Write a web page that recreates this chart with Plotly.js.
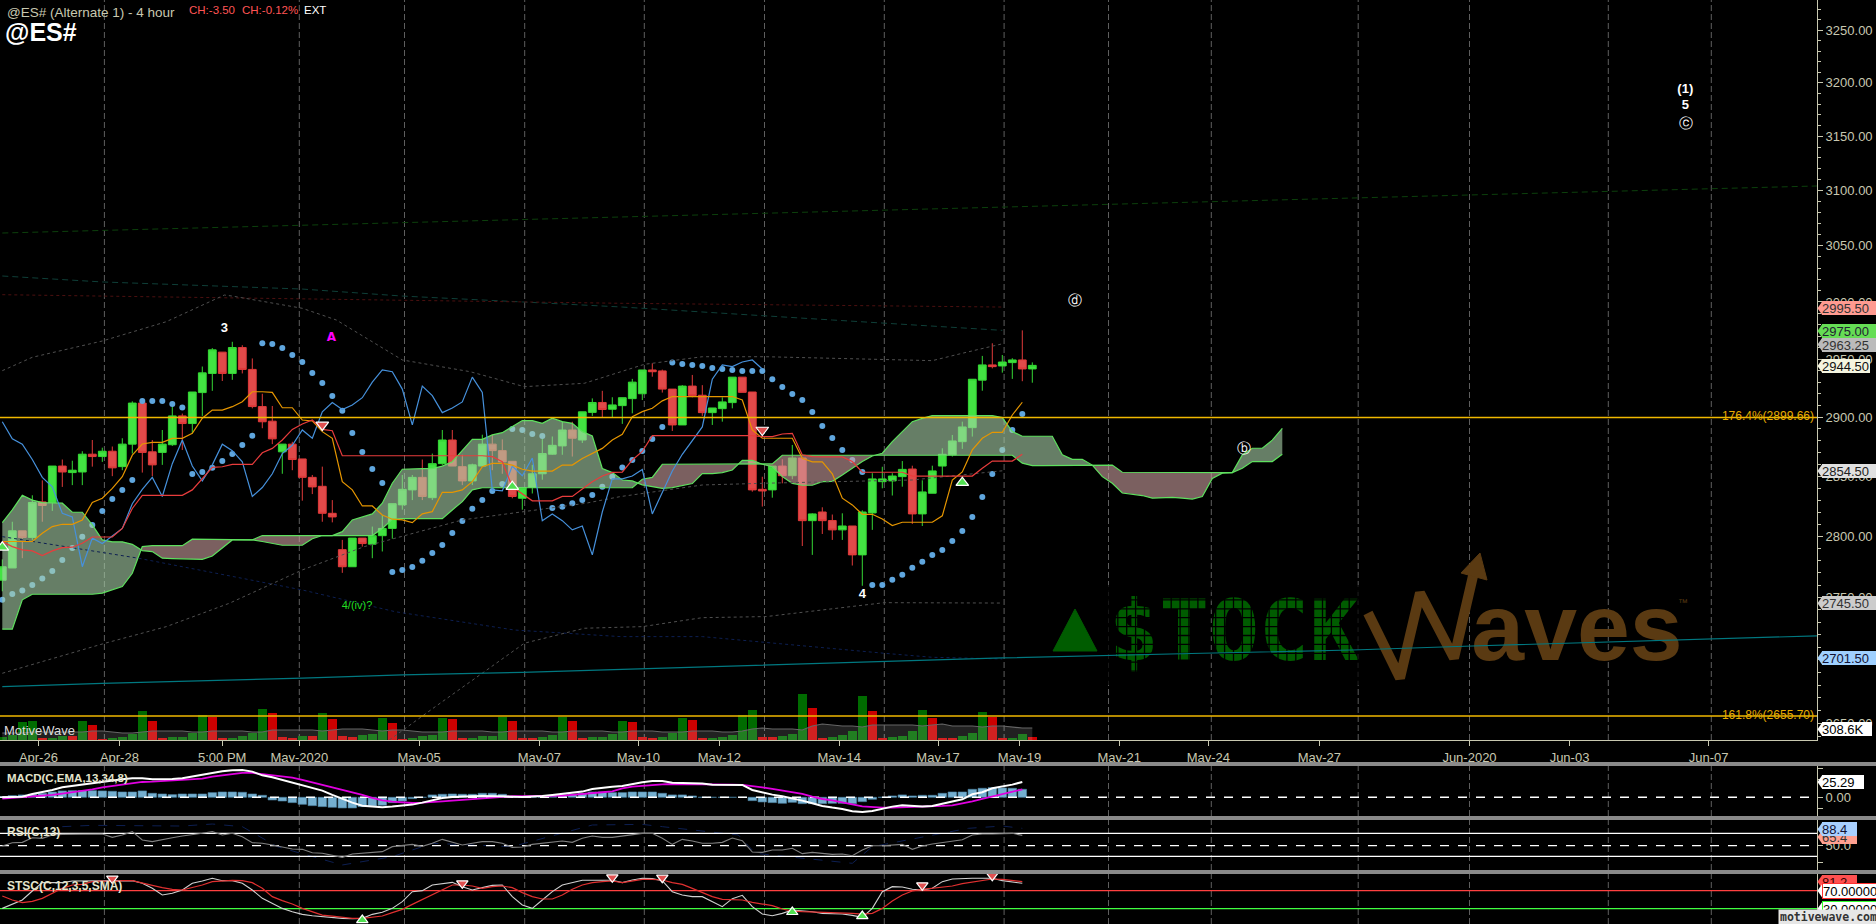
<!DOCTYPE html>
<html><head><meta charset="utf-8">
<script src="https://cdn.plot.ly/plotly-3.0.1.min.js"></script>
<style>html,body{margin:0;padding:0;background:#000;overflow:hidden}#c{width:1876px;height:924px}</style>
</head><body><div id="c"></div>
<script>
// ---------- candles (4 hour, index 0..103)
const opens=[2764,2774,2804.5,2799,2828.5,2828,2858.5,2853,2853.5,2868.5,2866.5,2871,2858,2877,2912,2870.5,2870,2876.5,2901,2894.5,2921,2937.5,2956,2937.5,2960,2941,2909,2896.5,2870.5,2877,2864.5,2849,2841.5,2819,2789,2775,2798.5,2793.5,2800.5,2806.5,2826,2838.5,2849,2832,2860.5,2880.5,2858,2846,2858.5,2877,2871.5,2862.5,2831.5,2840.5,2852,2868.5,2875.5,2889,2880.5,2904,2912.5,2906.7,2909.8,2915.8,2920,2940.5,2939.7,2924,2893.3,2926.6,2918.7,2903.8,2907.2,2912.4,2934.3,2921.5,2839,2838.5,2858.5,2850.4,2865.3,2812.9,2820.1,2813,2805.3,2808.5,2784.7,2819.3,2845.4,2846,2849.6,2856,2818.5,2835.7,2858.5,2867.9,2879.1,2891,2931.7,2944.9,2944,2946.9,2949.2,2941.4];
const highs=[2781,2812,2804.5,2834,2846.5,2858.5,2864,2863,2871,2880.5,2874,2875,2882,2913.5,2912,2880.5,2889,2911.5,2903,2921.5,2943.5,2959.5,2956,2965,2962,2950.5,2920,2909.5,2877,2879,2864.5,2851,2858,2830,2797,2798.5,2798.5,2808,2817.5,2827,2851,2851,2864,2869,2889,2889,2868,2860.5,2885,2885,2881,2862.5,2841,2859.5,2883.5,2883.5,2896,2896,2904.5,2916,2922.5,2917,2916.6,2932.8,2940.5,2946.3,2940.8,2924,2927.4,2936.2,2927.4,2907.8,2916.9,2934.3,2934.3,2921.5,2849.5,2858.5,2864.2,2876.3,2865.3,2819,2824,2818,2819,2808.5,2821.5,2852.5,2857.9,2852.5,2862.7,2858.8,2846.5,2858.8,2873.5,2884.8,2896.1,2932.5,2952.7,2963.7,2953.5,2950.7,2975,2947.1];
const lows=[2755,2774,2782,2797,2812,2821,2841,2842.5,2842.5,2858,2862,2850,2855,2869,2853,2850,2859.5,2875.5,2872,2886,2901,2922.5,2931,2932,2937.5,2907.5,2890.5,2877,2852,2855,2829.5,2835,2812,2811.5,2770,2775,2791.5,2782,2787.5,2798,2822,2830,2830,2830,2859.5,2858.5,2842.5,2842.5,2858,2855,2852,2831.5,2822,2835.5,2847,2868,2868,2866.5,2878,2901,2900,2899.8,2894.2,2903.2,2914.6,2934.7,2921,2888.2,2893.3,2916.9,2901,2893.3,2896.1,2907.5,2921.2,2837,2824.6,2832,2844,2847.4,2792,2784.7,2801.9,2797,2797,2776,2759.5,2805.3,2839.8,2833.8,2841.2,2810.2,2808.5,2835.7,2849.6,2866.5,2873,2883.4,2922.6,2941.9,2938.2,2932.8,2930.8,2929.5];
const closes=[2775,2804.5,2799,2828,2825.5,2858.5,2853.5,2855,2868.5,2866.5,2871,2857,2877,2912,2870,2859.5,2877,2901,2894.5,2921.5,2938,2958,2937.5,2960,2941,2909,2896,2881.5,2877,2864,2849,2841,2819,2816,2775,2798.5,2794,2800.5,2806.5,2827,2839,2849,2833,2860.5,2880.5,2858.5,2846,2859.5,2877,2871.5,2862,2833,2840.5,2852,2869,2876,2889,2882,2904.5,2912.5,2906.5,2910.4,2916.6,2930,2940.5,2939,2924,2893.3,2926.6,2918.4,2903.8,2907.8,2913,2934.3,2921.2,2838.5,2837.6,2858.5,2850.4,2865.3,2812.9,2818.5,2812.9,2805.3,2808.5,2784.7,2820.1,2847.7,2847.7,2850.1,2855.7,2818.5,2836.8,2854.4,2868.4,2879.7,2891.6,2932.5,2944.9,2943.4,2947.4,2949.2,2941.4,2944.5];
// ---------- volume (K)
const volume=[86,129,454,489,60,60,111,111,489,386,26,60,86,154,746,489,60,86,86,171,643,600,60,60,111,189,797,686,86,60,103,103,686,540,103,86,129,154,574,437,26,60,103,129,566,540,60,60,103,103,600,489,60,60,86,129,600,489,60,86,86,154,489,463,86,60,86,171,566,514,60,60,86,129,643,771,86,86,111,154,1183,831,60,86,129,231,1131,746,60,86,111,231,771,566,60,60,111,171,720,600,60,60,154,69];
const volumeDir="GGGGRGGRGRRGGGGRRGGGGRRGGGGRRRGRGRRRGGGRRGGGGRRGGGGRRRGGGRRGGGGRRRGGGRRGGGGGRRGGGRRGGGGRRGGGGRRRGGGRRGGR".split("");
const volumeAvg=[180,180,180,206,206,206,206,206,206,231,231,206,180,180,206,231,231,231,231,206,206,231,231,231,231,206,206,257,257,257,257,257,231,257,283,283,283,257,231,257,257,231,206,206,206,231,231,231,231,206,206,231,231,231,231,206,206,231,231,231,231,206,206,231,231,231,206,206,206,231,231,231,206,206,231,283,308,283,283,283,257,360,411,386,360,360,334,386,386,386,386,386,360,386,411,360,360,360,334,360,360,334,308,308.6];
// ---------- ichimoku
const spanA=[2811.3,2821.8,2834,2830,2827.9,2827.4,2827.4,2819.9,2819.9,2809.4,2797,2795.4,2795.4,2793.4,2788.2,2787.4,2782,2781.7,2781.7,2781.7,2781.1,2783.8,2790.2,2797,2797,2797,2795.7,2794.3,2792.6,2792.6,2792.6,2798,2800.6,2800.6,2803.8,2813.5,2816.2,2818.5,2827.4,2844.1,2855.8,2856.4,2856.4,2856.4,2858.4,2862.1,2872,2881,2881,2884.8,2886.7,2891.8,2897,2897,2894.7,2899,2896.1,2894.7,2887.6,2883.9,2856.4,2853,2846.8,2846,2842.7,2841.2,2839.8,2840.4,2842.1,2843.8,2852.1,2852.1,2853,2855.2,2863.3,2863.3,2860,2857.9,2849.6,2844,2842.4,2842.4,2845.4,2845.7,2851,2856.6,2862.3,2867,2869.3,2879.1,2887.6,2896.1,2898.9,2901.3,2901.3,2901.3,2901.3,2901.3,2901.3,2901.3,2899.6,2887.7,2883.7,2883.7,2883.7,2883.7,2867.9,2864.2,2864.2,2859.3,2849.6,2844,2835.9,2835.1,2833.8,2831.6,2831.9,2832.2,2831.6,2830.8,2833,2848,2852.5,2853,2867.9,2873.5,2873.5,2880.4,2890.4];
const spanB=[2724.5,2724.5,2748.1,2752.6,2752.6,2752.6,2752.6,2752.6,2752.6,2752.6,2753.5,2756.2,2758.9,2769.7,2791.5,2792.3,2792.3,2792.3,2792.3,2797.6,2797.6,2797.6,2797.6,2797.6,2797,2797,2800.6,2800.6,2800.6,2800.6,2800.6,2800.6,2800.6,2800.6,2800.6,2800.6,2800.6,2800.6,2806.5,2814.1,2814.6,2814.6,2814.6,2814.6,2814.6,2821.8,2828.7,2838.5,2840.3,2840.3,2840.3,2840.3,2840.3,2840.3,2840.3,2840.3,2840.3,2840.3,2840.3,2840.3,2840.3,2840.4,2840.4,2840.4,2847.4,2849,2860,2860,2860,2860,2860,2860,2860,2860,2860,2860,2860,2860.3,2867.6,2867.6,2867.6,2867.6,2867.6,2867.6,2867.6,2867.6,2867.6,2867.6,2867.6,2867.6,2867.6,2867.6,2867.6,2867.6,2867.6,2867.6,2867.6,2867.6,2867.6,2867.6,2867.6,2867.6,2860.9,2858.8,2858.8,2858.8,2858.8,2858.8,2858.8,2858.8,2859.3,2859.3,2853.3,2853.3,2853.3,2853.3,2853.3,2853.3,2853.3,2853.3,2853.3,2853.3,2853,2853,2856.6,2862.3,2862.3,2862.3,2868.4];
const laggingSpan=[2896,2881.5,2877,2864,2849,2841,2819,2816,2775,2798.5,2794,2800.5,2806.5,2827,2839,2849,2833,2860.5,2880.5,2858.5,2846,2859.5,2877,2871.5,2862,2833,2840.5,2852,2869,2876,2889,2882,2904.5,2912.5,2906.5,2910.4,2916.6,2930,2940.5,2939,2924,2893.3,2926.6,2918.4,2903.8,2907.8,2913,2934.3,2921.2,2838.5,2837.6,2858.5,2850.4,2865.3,2812.9,2818.5,2812.9,2805.3,2808.5,2784.7,2820.1,2847.7,2847.7,2850.1,2855.7,2818.5,2836.8,2854.4,2868.4,2879.7,2891.6,2932.5,2944.9,2943.4,2947.4,2949.2,2941.4];
const conversionLine=[2795.7,2795.7,2795.7,2795.7,2802.5,2808,2809.9,2809.9,2813.5,2828.1,2831.5,2839.8,2849.6,2867.7,2877.1,2878.5,2878.5,2881.9,2881.9,2886.2,2899,2906,2906,2908.9,2913.2,2921.7,2921.7,2921.2,2908,2908,2897.5,2896.7,2887.6,2881.9,2845.4,2838.5,2825.1,2825.1,2817.6,2814.1,2813.5,2811.3,2818.5,2820.4,2836.5,2836.5,2838.5,2845.4,2857.9,2860.7,2860.7,2859.3,2855.8,2854.3,2854.3,2854.3,2859.3,2859.3,2864.8,2869.2,2873.4,2880.5,2885.3,2900.4,2904.7,2907.5,2913.9,2917.6,2917.6,2917.6,2917.6,2917.6,2917.6,2917.6,2914.6,2889.1,2882,2882,2882,2882,2865,2862,2862,2852,2831.6,2826,2818.2,2818.2,2814.3,2808.9,2811.6,2811.6,2811.6,2811.6,2816.9,2846.8,2853.6,2872.1,2882,2887,2887,2901.8,2912.7];
const baseLine=[2795.7,2791.5,2788.8,2788,2784.2,2788,2790.7,2791,2794.3,2799.4,2799.4,2799.4,2806.5,2823,2834,2834,2834,2834,2834,2838.5,2848.2,2857.4,2857.9,2859.9,2859.9,2859.9,2869.7,2873.4,2880.5,2889.5,2894.1,2897.5,2889.5,2888.4,2867.2,2867.2,2867.2,2867.2,2867.2,2867.2,2867.2,2867.2,2867.2,2867.2,2867.2,2867.2,2867.2,2867.2,2867.2,2866.4,2862.1,2841.1,2835.5,2829.4,2829.4,2829.4,2833.1,2833.1,2839.2,2845.4,2850.1,2853.2,2853.3,2863.6,2870.8,2884.2,2884.2,2884.2,2884.2,2884.2,2884.2,2884.2,2884.2,2884.2,2884.2,2884.2,2883.4,2883.4,2885.6,2886.2,2867.9,2866.5,2866.2,2866.2,2866.2,2862.3,2853.3,2853.3,2853.3,2853.3,2853.3,2850.1,2850.1,2850.1,2850.1,2850.1,2850.1,2850.1,2856.6,2862.7,2862.7,2862.7,2868.4];
const psar=[2748.1,2752.9,2755.7,2760.2,2765.4,2771.6,2780.6,2790.4,2799.7,2809.4,2820.9,2830.9,2838.5,2846.8,2913.7,2913.7,2913.7,2911.2,2908.3,2851.8,2853.5,2857.1,2862.7,2868.7,2876.3,2884.1,2963.7,2963.1,2959.6,2953.5,2947.4,2937.9,2929.3,2918.1,2905.5,2886.4,2870.4,2856,2844.2,2770.8,2772.4,2774.8,2779.8,2786.3,2792.9,2802.8,2812.7,2822.7,2830,2837.6,2843.5,2889.8,2889,2885.6,2883.9,2823.4,2824.5,2827.3,2830,2834.3,2841.2,2849.6,2857.2,2863.6,2871.2,2881.4,2891.6,2946.9,2945.7,2944.9,2944,2942.2,2941.4,2940.5,2939.7,2939.7,2939.7,2932.5,2925.8,2919.8,2914.6,2904.4,2892.4,2882.3,2872.1,2863.6,2853.6,2760.2,2760.2,2764.3,2768.4,2774.1,2779,2784.7,2788.8,2796.2,2804.4,2816,2832.6,2851.9,2872.1,2889.1,2902.7];
// ---------- long dashed studies (index, price)
const bandUpperX=[0,3,10,16.4,22.2,23,30,33.4,40,46.8,52.2,58.2,64.2,70,76.4,88.2,93,96,100];
const bandUpper=[2939.9,2951.5,2965.7,2982.6,3006.1,3005.2,2994.4,2984.1,2949.2,2939,2926.1,2929,2945.4,2952,2952,2950,2948.6,2955,2963.25];
const bandLowerX=[0,10,16.4,22.7,30,36.2,46,52.2,58.3,61.8,64.2,70,76.4,88.2,91,100];
const bandLower=[2689.3,2712.6,2726.5,2745.3,2772.4,2791.5,2813.5,2820.4,2827.3,2832.9,2835.7,2842.6,2844.1,2846.2,2846.8,2854.5];
const bandThirdX=[38.7,43.3,52.2,58.2,64,70,76.4,88.2,100];
const bandThird=[2637,2663,2713.2,2725.2,2726.5,2733.7,2734.6,2745.8,2745.5];
const navyX=[0,13.6,30,39.3,51.2,61.8,70,76.4,88.2,93,100];
const navy=[2799.7,2782,2756.1,2738.5,2723.8,2718.5,2718.5,2713.7,2705.2,2702,2700.7];
const darkTealX=[0,10,30,40,52,62,83,100];
const darkTeal=[3023,3017.7,3011.4,3005.2,3000,2995.5,2984.1,2975];
const darkRedX=[0,62,100];
const darkRed=[3006.4,2998.8,2995.5];
const darkGreenX=[0,62,120,181.5];
const darkGreen=[3061.5,3076,3089.6,3104.2];
const tealX=[0,10,30,40,52,62,76,88,100,120,135,147,160,171,181.5];
const teal=[2678.8,2681.4,2685.4,2688,2690.1,2692.5,2695.9,2698.5,2701.5,2705.2,2707.8,2711,2714,2716.4,2719.1];
const fibLevels=[2899.66,2655.7];
const fibLabels=["176.4%(2899.66)","161.8%(2655.70)"];
// ---------- signal arrows
const arrowUpX=[0,51,96], arrowUp=[2790.9,2841.2,2844.5];
const arrowDownX=[32,76], arrowDown=[2893.3,2889];
// ---------- wave labels
const waveX=[22.2,86,168.3,168.3];
const waveY=[2976.2,2752,3193.1,3178];
const waveText=["3","4","(1)","5"];
const circledX=[168.4,107.3,124.2];
const circledY=[3161.3,3000.4,2872.6];
const circledText=["ⓒ","ⓓ","ⓑ"];
// ---------- MACD
const macdLine=[0,1.1,1.1,5.5,8.3,12.1,16.5,18.7,22,23.1,25.9,27.5,29.7,31.4,31.4,29.7,29.7,30.3,31.4,34.1,36.9,40.7,42.9,44.6,45.1,42.4,36.3,33,28.6,24.2,20.4,16,11,3.9,-2.8,-8.8,-13.8,-15.4,-16.5,-15.4,-13.8,-12.1,-8.8,-4.4,-1.1,0.6,0.6,1.7,2.2,2.2,2.2,1.1,0.6,1.1,2.2,3.9,5.5,6.6,9.4,13.8,16,17.6,18.7,22,24.75,27,27,24.2,23.7,23.1,22.6,20.9,20.9,20.9,20.4,12.1,7.7,4.4,1.7,-1.7,-5.5,-9.9,-14.3,-17,-19.3,-23.1,-24.2,-22.6,-18.7,-15.4,-13.2,-14.9,-15.4,-14.3,-11,-7.2,-3.3,5,8.3,14.9,17.6,20.9,25.29];
const macdSignal=[-2.2,-1.1,0,1.1,2.2,3.9,6.1,8.3,11,13.2,16.5,18.7,21.5,23.1,25.3,25.9,27,27.5,28.6,29.2,30.8,34.1,36.3,38.5,40.2,40.2,38.5,36.9,34.7,32.5,28.6,24.8,20.9,16.5,12.1,8.3,3.9,-1.1,-5,-7.2,-8.8,-9.4,-8.8,-8.3,-6.6,-5.5,-4.4,-2.8,-1.7,0,1.1,1.7,1.7,1.7,2.2,2.2,2.8,3.9,5,6.6,8.3,9.9,14.9,17.6,19.3,20.9,21.5,22,22,22,22,21.5,20.9,20.9,20.4,18.7,16.5,13.8,11,8.8,5.5,1.1,-2.8,-5,-7.7,-11.6,-14.9,-16.5,-17,-17,-16.5,-16.5,-16.5,-15.4,-14.3,-13.2,-10.5,-6.6,-2.8,1.1,5,9.4,13.2];
const macdHist=[1.1,2.8,3.9,5,6.6,8.8,10.5,11,11,11,10.5,9.9,8.8,8.8,10.5,6.6,5.5,4.4,5.5,5.5,5.5,7.7,8.8,8.8,8.3,5.5,3.3,-4.4,-6.1,-8.8,-11.6,-13.8,-15.4,-16.5,-17.6,-17.6,-15.4,-14.3,-13.2,-8.8,-6.1,-2.2,0,3.9,5,5.5,5,5,6.6,6.6,5,0.6,0,0,1.1,2.2,3.9,5,6.6,8.8,8.8,7.7,7.7,8.8,8.8,8.8,6.6,3.9,3.9,2.2,0,0,0,0,0,-5.5,-7.7,-8.8,-9.9,-8.3,-10.5,-10.5,-10.5,-9.9,-9.9,-10.5,-7.2,-3.3,0,2.2,3.9,2.2,3.3,3.3,6.6,8.8,8.8,13.2,14.9,16,15.4,14.9,13.2];
// ---------- RSI
const rsiLine=[49.4,55.2,55.8,63.9,62.8,68.6,69.7,69.7,69.7,70.3,70.3,64.5,68.6,74.4,59.9,57,61,63.9,66.8,68.6,71.5,74.4,68.6,71.5,65.7,55.2,54.1,51.2,48.3,44.2,43.6,37.8,36.7,33.8,29.7,35.5,36.7,37.8,39.6,48.3,50.6,52.3,48.8,54.1,61,55.8,51.2,54.1,57,57,54.1,47.1,47.7,52.3,54.1,55.8,58.1,55.8,62.8,66.8,64.5,64.5,66.8,69.1,71.5,71.5,62.8,52.3,61,58.1,54.1,54.1,55.8,63.3,58.7,39,38.4,42.5,42.5,45.4,36.1,38.4,36.7,34.9,35.5,32.6,42.5,50,50,51.2,52.3,43.6,49.4,52.9,55.8,58.1,60.4,68.6,70.3,70.3,70.9,71.5,68];
const rsiFaintX=[6,9,18,21,24,27.5,34,39,43,51,59,64,66,73.6,75.3,85,87,96.6,100,102];
const rsiFaint=[83.1,85.4,84.2,87.7,83.1,48.3,16.4,30.9,54.1,48.3,86,87.1,83.1,68.6,36.7,19.3,48.3,80.2,84.2,80.2];
const rsiLevels=[71.5,31.4], rsiMid=50;
// ---------- stochastic
const stochK=[30.7,40.4,49.3,69.3,87.8,87.8,87.8,91.5,91.5,91.5,92.2,92.2,92.2,92.2,86.3,75.2,60.4,64.1,71.5,86.3,91.5,97.4,92.2,92.2,86.3,71.5,53,41.9,30.7,23.3,17.4,14.4,12.2,10,8.5,7.8,8.5,17.4,21.9,30.7,45.6,67.8,70,82.6,86.3,88.5,78.9,71.5,76.7,81.8,82.6,56.7,38.1,30.7,49.3,67.8,82.6,87.8,93,93,93,93,87.8,93.7,97.4,96.7,92.2,67.8,60.4,56.7,56.7,45.6,34.4,52.2,59.6,34.4,18.1,14.4,19.6,27,25.6,23.3,19.6,19.6,18.1,15.2,10.7,30.7,67.8,78.9,78.1,73,71.5,75.2,90,95.9,97.4,97.4,97.4,97.4,92.2,90,86.3];
const stochD=[58.1,49.3,43.3,46.3,53,64.1,75.2,82.6,84.1,90,91.5,90,92.2,92.2,87.8,81.8,76.7,73,71.5,76.7,82.6,90,92.2,93,92.2,87.8,75.2,56.7,47.8,40.4,30.7,23.3,15.9,13.7,10.7,8.5,8.5,10.7,13.7,21.1,28.5,39.6,50.7,60.4,71.5,82.6,82.6,80.4,75.2,78.9,80.4,76.7,65.6,56.7,51.5,51.5,60.4,73,82.6,87.8,90,91.5,87.8,92.2,95.2,95.2,93.7,87.8,84.1,75.2,65.6,56.7,50.7,49.3,49.3,44.1,40.4,36.7,29.3,24.8,23.3,22.6,21.9,21.9,21.1,19.6,18.1,19.6,30.7,47,60.4,69.3,73,75.2,76.7,80.4,85.6,89.3,93,95.9,95.2,93,90];
const stochUpX=[36,79,86], stochUp=[4.8,22.6,13.7];
const stochDownX=[11,46,61,66,92,99], stochDown=[96.7,86.3,99.6,98.9,81.8,103.3];
const stochLevels=[70,30];
// ---------- axes
const timeTickX=[3.61,11.71,21.99,29.7,41.68,53.7,63.61,71.71,83.69,93.57,101.72,111.69,120.61,131.71,146.72,156.72,170.64];
const timeTickText=["Apr-26","Apr-28","5:00 PM","May-2020","May-05","May-07","May-10","May-12","May-14","May-17","May-19","May-21","May-24","May-27","Jun-2020","Jun-03","Jun-07"];
const gridX=[10.21,29.7,40.22,52.24,64.2,76.22,88.2,100.18,110.62,120.9,135.59,146.72,160.6,170.9];
const priceTicks=[2650,2700,2750,2800,2850,2900,2950,3000,3050,3100,3150,3200,3250];
// ---------- price tags
const tagText=["2995.50","2975.00","2963.25","2944.50","2854.50","2745.50","2701.50","308.6K","25.29","65.4","88.4","81.2","70.00000","30.00000"];
const tagY=[308.3,331,344.5,366,471,603.3,658,729.3,782,837,829.3,881.7,890.7,908.7];

// ---------- layout constants
const W=1876,H=924,PW=1817,TAN='#c8c8b0',FONT='"Liberation Sans",Arial,sans-serif';
const pxX=p=>(p-2.3)/10;
const idx=a=>a.map((_,i)=>i);
const xRange=[pxX(0),pxX(PW)];
const fy=y=>1-y/H, traces=[];
const priceAxis={xaxis:'x',yaxis:'y3'}, volAxis={xaxis:'x',yaxis:'y2'}, wmAxis={xaxis:'x',yaxis:'y'};
const off={hoverinfo:'skip',showlegend:false};
const line=(x,y,color,width,dash,ax)=>traces.push({type:'scatter',mode:'lines',x,y,line:{color,width,dash:dash||'solid'},...ax,...off});
const txt=(x,y,text,size,color,family,ax,pos,weight)=>traces.push({type:'scatter',mode:'text',x,y,text,textposition:pos||'middle center',textfont:{size,color,family:family||FONT,weight:weight||'normal'},cliponaxis:false,...ax,...off});

// watermark, base layer under every study
const markGreen='#005c00', markBrown='#5a3a12';
traces.push({type:'scatter',mode:'lines',x:[1053,1075,1097,1053].map(pxX),y:[651,609,651,651],fill:'toself',fillcolor:markGreen,line:{color:markGreen,width:1},...wmAxis,...off});
txt([pxX(1234)],[639],['$TOCK'],83,markGreen,'"DejaVu Sans Mono",monospace',wmAxis,'middle center','bold');
(function(){const gx=[],gy=[];
  for(let p=1100;p<1365;p+=8.9){gx.push(pxX(p),pxX(p),null);gy.push(585,685,null);}
  for(let q=591;q<685;q+=8.9){gx.push(pxX(1100),pxX(1365),null);gy.push(q,q,null);}
  traces.push({type:'scatter',mode:'lines',x:gx,y:gy,line:{color:'#000',width:1.3},...wmAxis,...off});})();
traces.push({type:'scatter',mode:'lines',x:[1368,1400,1420,1454,1476].map(pxX),y:[613,678,593,658,563],line:{color:markBrown,width:10,shape:'linear'},...wmAxis,...off});
traces.push({type:'scatter',mode:'lines',x:[1480,1461,1487,1480].map(pxX),y:[553,573,580,553],fill:'toself',fillcolor:markBrown,line:{color:markBrown,width:1},...wmAxis,...off});
txt([pxX(1577)],[636],['aves'],95,markBrown,'"Liberation Sans Narrow","Liberation Sans",sans-serif',wmAxis,'middle center','bold');
txt([pxX(1683)],[603],['™'],10,markBrown,FONT,wmAxis);

// volume
traces.push({type:'bar',x:idx(volume),y:volume,width:0.85,marker:{color:volumeDir.map(d=>d==='G'?'#006b00':'#cc0000'),line:{width:0}},...volAxis,...off});
traces.push({type:'scatter',mode:'lines',x:idx(volumeAvg),y:volumeAvg,fill:'tozeroy',fillcolor:'rgba(255,255,255,0.13)',line:{color:'#666',width:1.2},...volAxis,...off});

// candles
traces.push({type:'candlestick',x:idx(opens),open:opens,high:highs,low:lows,close:closes,whiskerwidth:0,
  increasing:{line:{color:'#35d835',width:1},fillcolor:'#42e342'},decreasing:{line:{color:'#e03a3a',width:1},fillcolor:'#e04a4a'},...priceAxis,...off});

// parabolic dots
traces.push({type:'scatter',mode:'markers',x:idx(psar),y:psar,marker:{color:'#5fa6de',size:6},...priceAxis,...off});

// cloud fills: one polygon per run where the spans keep their order
(function(){
  const up={x:[],y:[]},dn={x:[],y:[]};
  let run={xs:[],a:[],b:[]};
  const flush=s=>{const t=s>=0?up:dn;if(!run.xs.length)return;
    t.x.push(...run.xs,...run.xs.slice().reverse(),null);
    t.y.push(...run.a,...run.b.slice().reverse(),null);};
  let sign=spanA[0]-spanB[0];
  for(let i=0;i<spanA.length;i++){
    const d=spanA[i]-spanB[i];
    if(d*sign<0){
      const pd=spanA[i-1]-spanB[i-1];const t=pd/(pd-d);
      const cx=i-1+t,cy=spanA[i-1]+(spanA[i]-spanA[i-1])*t;
      run.xs.push(cx);run.a.push(cy);run.b.push(cy);flush(sign);
      run={xs:[cx],a:[cy],b:[cy]};sign=d;
    }else if(d!==0)sign=d;
    run.xs.push(i);run.a.push(spanA[i]);run.b.push(spanB[i]);
  }
  flush(sign);
  traces.push({type:'scatter',mode:'lines',x:up.x,y:up.y,fill:'toself',fillcolor:'rgba(170,210,170,0.6)',line:{width:0},...priceAxis,...off});
  traces.push({type:'scatter',mode:'lines',x:dn.x,y:dn.y,fill:'toself',fillcolor:'rgba(205,160,160,0.6)',line:{width:0},...priceAxis,...off});
})();
line(idx(spanA),spanA,'#5ee05e',1.2,null,priceAxis);
line(idx(spanB),spanB,'#5ee05e',1.2,null,priceAxis);

// long dashed studies
const longDash='6px,4px', shortDash='3px,3px';
line(darkGreenX,darkGreen,'#0c400c',1,longDash,priceAxis);
line(darkTealX,darkTeal,'#0f3f38',1,longDash,priceAxis);
line(darkRedX,darkRed,'#4c1010',1,shortDash,priceAxis);
line(navyX,navy,'#0d1f52',1,shortDash,priceAxis);
line(bandUpperX,bandUpper,'#505050',1,shortDash,priceAxis);
line(bandLowerX,bandLower,'#505050',1,shortDash,priceAxis);
line(bandThirdX,bandThird,'#505050',1,shortDash,priceAxis);
line(tealX,teal,'#007880',1.2,null,priceAxis);

// ichimoku lines
line(idx(laggingSpan),laggingSpan,'#4691dc',1.2,null,priceAxis);
line(idx(conversionLine),conversionLine,'#e69600',1.2,null,priceAxis);
line(idx(baseLine),baseLine,'#e83c3c',1.2,null,priceAxis);

// fibs
fibLevels.forEach((v,i)=>{
  line(xRange,[v,v],'#f0b800',1.4,null,priceAxis);
  txt([pxX(1814)],[v],[fibLabels[i]],12,'#e8ae00',FONT,priceAxis,'middle left');
});
// arrows
const arrow=(x,y,sym,fill,ax,size)=>traces.push({type:'scatter',mode:'markers',x,y,marker:{symbol:sym,color:fill,size:size||11,line:{color:'#fff',width:1.2}},...ax,...off});
arrow(arrowUpX,arrowUp,'triangle-up','#50e050',priceAxis);
arrow(arrowDownX,arrowDown,'triangle-down','#e05050',priceAxis);
// wave labels
txt(waveX,waveY,waveText,13,'#ffffff',FONT,priceAxis,'middle center','bold');
txt(circledX,circledY,circledText,14,'#ffffff','"DejaVu Sans",sans-serif',priceAxis,'middle center','normal');
txt([pxX(331.4)],[2968.4],['A'],12,'#ff00ff','"DejaVu Sans",sans-serif',priceAxis,'middle center','bold');
txt([pxX(357)],[2742.6],['4/(iv)?'],11,'#22dd22',FONT,priceAxis);

// MACD pane
const macdAx={xaxis:'x2',yaxis:'y4'}, rsiAx={xaxis:'x3',yaxis:'y5'}, stoAx={xaxis:'x4',yaxis:'y6'};
traces.push({type:'bar',x:idx(macdHist),y:macdHist,width:0.85,marker:{color:'#74afd0',line:{color:'#4f86a6',width:0.6}},...macdAx,...off});
line(xRange,[0,0],'#ffffff',1.4,'dash',macdAx);
line(idx(macdSignal),macdSignal,'#e000e0',1.8,null,macdAx);
line(idx(macdLine),macdLine,'#ffffff',2,null,macdAx);
// RSI pane
line(rsiFaintX,rsiFaint,'#0d1f52',1,'dash',rsiAx);
rsiLevels.forEach(v=>line(xRange,[v,v],'#ffffff',1.3,null,rsiAx));
line(xRange,[rsiMid,rsiMid],'#ffffff',1.3,'dash',rsiAx);
line(idx(rsiLine),rsiLine,'#808080',1.1,null,rsiAx);
// Stochastic pane
line(xRange,[stochLevels[0],stochLevels[0]],'#ff4040',1.3,null,stoAx);
line(xRange,[stochLevels[1],stochLevels[1]],'#40ff40',1.3,null,stoAx);
line(idx(stochK),stochK,'#d0d0d0',1.1,null,stoAx);
line(idx(stochD),stochD,'#e03030',1.2,null,stoAx);
arrow(stochDownX,stochDown,'triangle-down','#e05050',stoAx,10);
arrow(stochUpX,stochUp,'triangle-up','#50e050',stoAx,10);

// grid, separators
const shapes=[];
[['x','y domain'],['x2','y4 domain'],['x3','y5 domain'],['x4','y6 domain']].forEach(([xr,yr])=>gridX.forEach(g=>
  shapes.push({type:'line',layer:'below',xref:xr,yref:yr,x0:g,x1:g,y0:0,y1:1,line:{color:'#5e5e5e',width:1,dash:'6px,3px'}})));
[[762,766],[816,820],[870,874]].forEach(([a,b])=>shapes.push({type:'rect',xref:'paper',yref:'paper',x0:0,x1:1,y0:fy(a),y1:fy(b),fillcolor:'#8a8a8a',line:{width:0},layer:'above'}));

// tags and page text
const annotations=[];
const ann=(px,py,text,o)=>annotations.push(Object.assign({xref:'paper',yref:'paper',x:px/W,y:fy(py),text,showarrow:false,xanchor:'left',yanchor:'middle',font:{family:FONT,size:13,color:TAN}},o||{}));
ann(5,12.5,'@ES# (Alternate 1) - 4 hour',{font:{family:FONT,size:13.5,color:TAN}});
ann(187,10,'CH:-3.50',{font:{family:FONT,size:11.5,color:'#ff5555'}});
ann(240,10,'CH:-0.12%',{font:{family:FONT,size:11.5,color:'#ff5555'}});
ann(302,10,'EXT',{font:{family:FONT,size:11.5,color:'#ffffff'}});
ann(3,32,'<b>@ES#</b>',{font:{family:FONT,size:25,color:'#ffffff'}});
ann(2,730.5,'MotiveWave',{font:{family:FONT,size:13,color:'#dcdcdc'}});
ann(5,777.5,'<b>MACD(C,EMA,13,34,8)</b>',{font:{family:FONT,size:11.5,color:'#e4e4cc'}});
ann(5,832,'<b>RSI(C,13)</b>',{font:{family:FONT,size:12,color:'#e4e4cc'}});
ann(5,886,'<b>STSC(C,12,3,5,SMA)</b>',{font:{family:FONT,size:12,color:'#e4e4cc'}});
const tagStyle=[['#ff9a90','#333',54],['#66dd55','#223',54],['#bbbbbb','#333',54],['#f5f5e0','#111',48],['#e0e0e0','#222',54],['#cccccc','#333',54],['#9fd0ff','#113',54],['#ffffff','#000',50],['#ffffff','#000',42],['#ffa090','#333',35],['#a8d0ff','#113',35],['#ff5050','#300',35],['#ffffff','#000',60],['#ffffff','#000',60]];
const tagBorder={12:'#ff3030',13:'#30ff30'};
tagText.forEach((t,i)=>{const [bg,fg,w]=tagStyle[i];const y=tagY[i];
  shapes.push({type:'path',xref:'paper',yref:'paper',layer:'above',path:`M ${1817.5/W} ${fy(y)} L ${1822/W} ${fy(y-6.5)} L ${1822/W} ${fy(y+6.5)} Z`,fillcolor:bg,line:{width:0}});
  ann(1822,y,t,{font:{family:FONT,size:13,color:fg},bgcolor:bg,width:w,height:14,borderpad:0,align:'left',bordercolor:tagBorder[i]||bg,borderwidth:tagBorder[i]?1:0});
});
ann(1777.5,917,'<b>motivewave.com</b>',{font:{family:'"DejaVu Sans Mono",monospace',size:11.5,color:'#333'},bgcolor:'#e6e6e6',width:99,height:14,borderpad:0,align:'center'});

const paneX={range:xRange,domain:[0,PW/W],showgrid:false,zeroline:false,showticklabels:false,ticks:'',showline:false,fixedrange:true};
const paneY=(top,bot,range,vals,text,anchor)=>({domain:[fy(bot),fy(top)],range,anchor,side:'right',showgrid:false,zeroline:false,showline:true,linecolor:TAN,linewidth:1,ticks:'outside',ticklen:5,tickcolor:TAN,tickmode:'array',tickvals:vals,ticktext:text,tickfont:{family:FONT,size:13,color:TAN},fixedrange:true});
const minorPrices=[];for(let p=2640;p<=3270;p+=10)minorPrices.push(p);

const layout={width:W,height:H,margin:{l:0,r:0,t:0,b:0,pad:0},paper_bgcolor:'#000',plot_bgcolor:'#000',showlegend:false,hovermode:false,bargap:0,barmode:'overlay',boxgap:0.22,boxgroupgap:0,boxmode:'overlay',
  xaxis:{...paneX,anchor:'y',rangeslider:{visible:false},showticklabels:true,ticks:'outside',ticklen:5,tickcolor:TAN,showline:true,linecolor:TAN,linewidth:1,tickmode:'array',tickvals:timeTickX,ticktext:timeTickText,tickfont:{family:FONT,size:13,color:TAN}},
  xaxis2:{...paneX,anchor:'y4'},xaxis3:{...paneX,anchor:'y5'},xaxis4:{...paneX,anchor:'y6'},
  yaxis:{domain:[fy(740),1],range:[740,0],visible:false,fixedrange:true,anchor:'x'},
  yaxis2:{overlaying:'y',range:[0,19018],visible:false,fixedrange:true,anchor:'x'},
  yaxis3:{...paneY(0,740,[Math.log10(2637),Math.log10(3278.9)],priceTicks,priceTicks.map(v=>v.toFixed(2)),'x'),type:'log',overlaying:'y',
    minor:{tickmode:'array',tickvals:minorPrices,ticks:'outside',ticklen:3,tickcolor:TAN,showgrid:false}},
  yaxis4:paneY(766,816,[-30.9,51.7],[-18,0,30,47],['','0.00','',''],'x2'),
  yaxis5:paneY(820,870,[7.66,94.7],[20,50,80],['','50.0',''],'x3'),
  yaxis6:paneY(874,924,[-4,107],[30,70],['30','70'],'x4'),
  shapes,annotations};
Plotly.newPlot('c',traces,layout,{staticPlot:true,displayModeBar:false});
</script></body></html>
